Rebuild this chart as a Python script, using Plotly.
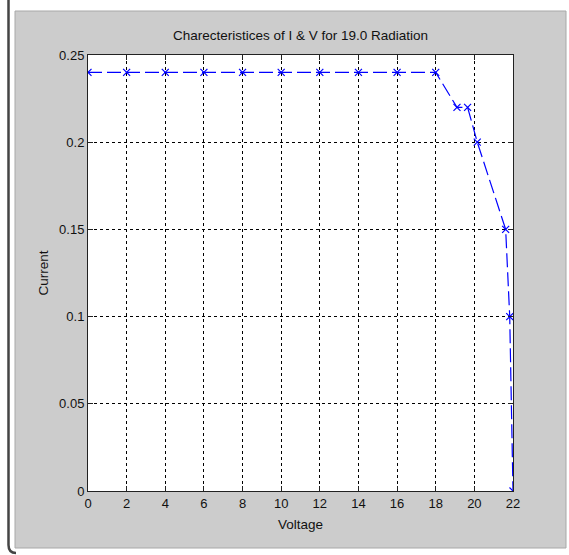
import plotly.graph_objects as go

# I-V characteristic samples
voltage = [0, 2, 4, 6, 8, 10, 12, 14, 16, 18, 19.1, 19.65, 20.15, 21.62, 21.83, 22]
current = [0.24, 0.24, 0.24, 0.24, 0.24, 0.24, 0.24, 0.24, 0.24, 0.24,
           0.22, 0.22, 0.2, 0.15, 0.1, 0.0]

x_ticks = [0, 2, 4, 6, 8, 10, 12, 14, 16, 18, 20, 22]
y_ticks = [0, 0.05, 0.1, 0.15, 0.2, 0.25]
y_tick_text = ["0", "0.05", "0.1", "0.15", "0.2", "0.25"]

FONT = "Liberation Sans, Arial, sans-serif"
INK = "#111111"

W, H = 569, 555
L, R, T, B = 88, 56, 55, 64
pw, ph = W - L - R, H - T - B


def px_x(v):
    return (v - L) / pw


def px_y(v):
    return (H - B - v) / ph


fig = go.Figure()
fig.add_trace(go.Scatter(
    x=voltage, y=current, mode="lines+markers",
    line=dict(color="#0000ff", width=1.2, dash="14px,5px"),
    marker=dict(symbol="x-thin-open", size=7, color="#0000ff",
                line=dict(color="#0000ff", width=1.2)),
    showlegend=False,
))

axis_common = dict(
    showline=True, linecolor="#222222", linewidth=1, mirror="ticks",
    ticks="inside", ticklen=5, tickcolor="#222222",
    showgrid=True, gridcolor="#000000", gridwidth=1, griddash="3px,3px",
    zeroline=False,
    tickfont=dict(family=FONT, size=13, color=INK),
)

fig.update_xaxes(
    range=[0, 22], tickvals=x_ticks, **axis_common,
    title=dict(text="Voltage", font=dict(family=FONT, size=13.5, color=INK), standoff=9),
)
fig.update_yaxes(
    range=[0, 0.25], tickvals=y_ticks, ticktext=y_tick_text, **axis_common,
    title=dict(text="Current", font=dict(family=FONT, size=13.5, color=INK), standoff=7),
)

shapes = [
    # grey figure panel
    dict(type="rect", xref="paper", yref="paper", layer="below",
         x0=px_x(15), x1=px_x(566), y0=px_y(548), y1=px_y(11),
         fillcolor="#cccccc", line=dict(color="#a8a8a8", width=1)),
    # white axes area
    dict(type="rect", xref="paper", yref="paper", layer="below",
         x0=0, x1=1, y0=0, y1=1, fillcolor="#ffffff", line=dict(width=0)),
    # dark window edge on the left
    dict(type="path", xref="paper", yref="paper", layer="above",
         path=f"M {px_x(8.5)},{px_y(0)} L {px_x(8.5)},{px_y(545)} "
              f"Q {px_x(8.5)},{px_y(553)} {px_x(16)},{px_y(553)}",
         line=dict(color="#444444", width=2.5)),
]

fig.update_layout(
    width=W, height=H,
    margin=dict(l=L, r=R, t=T, b=B),
    paper_bgcolor="#ffffff", plot_bgcolor="rgba(0,0,0,0)",
    title=dict(text="Charecteristices of I & V for 19.0 Radiation",
               font=dict(family=FONT, size=13.5, color=INK),
               xref="container", x=300.5 / W, xanchor="center",
               yref="container", y=1 - 35 / H, yanchor="middle"),
    shapes=shapes,
)

fig.write_html("out.html")
